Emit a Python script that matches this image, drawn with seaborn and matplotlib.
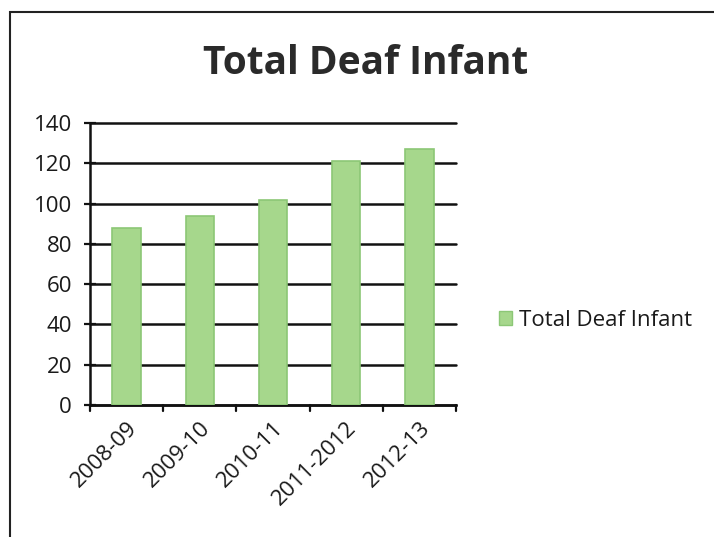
import matplotlib
matplotlib.use("Agg")
import matplotlib.pyplot as plt
import seaborn as sns
import pandas as pd
from matplotlib.patches import Rectangle, Patch

categories = ["2008-09", "2009-10", "2010-11", "2011-2012", "2012-13"]
values = [88, 94, 102, 121, 127]
series_name = "Total Deaf Infant"
y_ticks = [0, 20, 40, 60, 80, 100, 120, 140]

sns.set_theme(style="white")
plt.rcParams['font.family'] = ['Open Sans', 'DejaVu Sans']

df = pd.DataFrame({"period": categories, "value": values})

fig = plt.figure(figsize=(7.14, 5.37), dpi=100)
ax = fig.add_axes([90/714, 1-405/537, 366/714, (405-123)/537])

bar_color = "#a6d78c"
edge_color = "#8cc776"
sns.barplot(data=df, x="period", y="value", color=bar_color, width=0.39,
            edgecolor=edge_color, linewidth=1.2, saturation=1, ax=ax, zorder=3)

ax.set_ylim(0, 140)
ax.set_xlim(-0.5, len(categories) - 0.5)
ax.set_yticks(y_ticks)
ax.set_yticklabels([str(t) for t in y_ticks], fontsize=16)
ax.yaxis.grid(True, color="#111111", linewidth=1.8, zorder=0)
for gl in ax.yaxis.get_gridlines():
    gl.set_clip_on(False)
ax.set_axisbelow(True)
ax.set_xlabel("")
ax.set_ylabel("")

ax.set_xticks([i for i in range(len(categories))])
ax.set_xticklabels(categories, rotation=45, ha="right", rotation_mode="anchor", fontsize=16)
ax.tick_params(axis="x", length=0, pad=9)
for b in [i - 0.5 for i in range(len(categories) + 1)]:
    ax.plot([b, b], [0, -3], color="#111111", lw=1.6, clip_on=False, zorder=4)
ax.tick_params(axis="y", left=True, length=8, width=1.6, color="#111111",
               direction="inout", pad=9)
for lab in ax.get_xticklabels() + ax.get_yticklabels():
    lab.set_color("#1a1a1a")

for s in ["top", "right"]:
    ax.spines[s].set_visible(False)
for s in ["left", "bottom"]:
    ax.spines[s].set_color("#111111")
    ax.spines[s].set_linewidth(1.8)

fig.text(366/714, 1-64/537, "Total Deaf Infant", ha="center", va="center",
         fontsize=28, fontweight="bold", color="#2a2a2a")

handles = [Patch(facecolor=bar_color, edgecolor=edge_color, label=series_name)]
fig.legend(handles=handles, loc="center left", bbox_to_anchor=(479/714, 1-320/537),
           frameon=False, fontsize=16, handlelength=0.6, handleheight=0.6,
           handletextpad=0.3, labelcolor="#1a1a1a")

fig.patches.append(Rectangle((10/714, -0.05), 2, 1-12/537 + 0.05, transform=fig.transFigure,
                             fill=False, edgecolor="#222222", linewidth=1.5))

fig.savefig("out.png", dpi=100)
